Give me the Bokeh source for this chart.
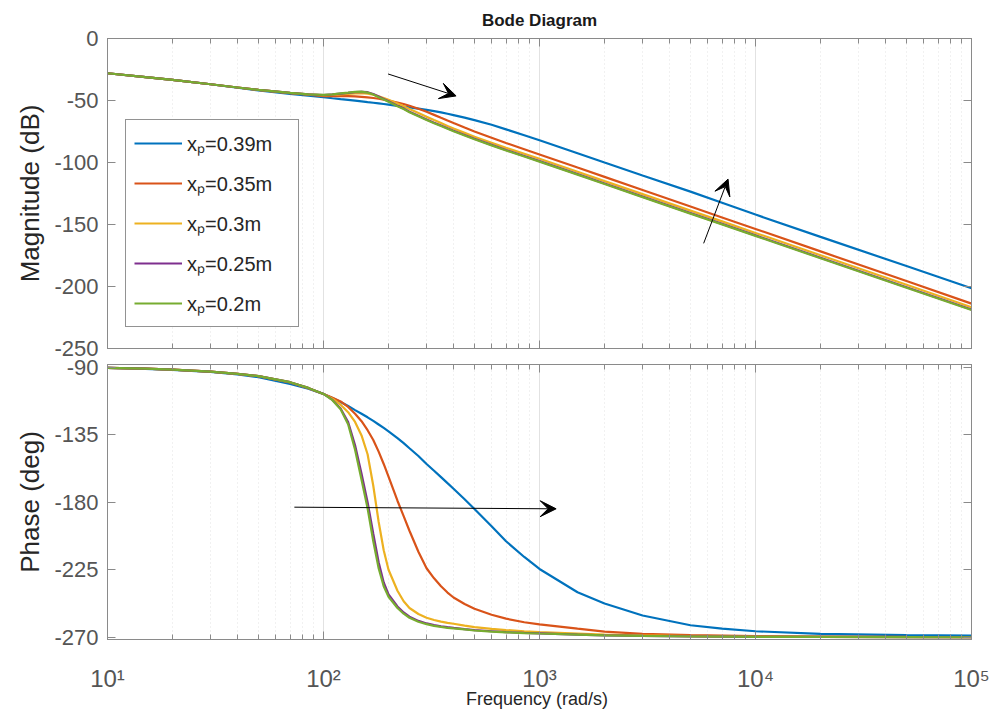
from bokeh.plotting import figure
from bokeh.models import (LogAxis, LinearAxis, FixedTicker, Legend, LegendItem, Arrow,
                          VeeHead, CustomJSTickFormatter, Range1d)
from bokeh.layouts import column
from bokeh.embed import file_html
from bokeh.resources import INLINE

# ---------------- data ----------------
freq = [10, 15, 20, 30, 40, 50, 70, 85,
        100, 110, 120, 130, 140, 150, 160, 170, 180, 190, 200,
        220, 235, 250, 275, 300, 325, 350, 375, 400, 450, 500, 600, 700, 850,
        1000, 1500, 2000, 3000, 5000, 7000,
        10000, 20000, 50000, 100000]

mag_039 = [-28.0, -31.2, -33.4, -36.9, -39.7, -41.8, -44.6, -46.0,
           -47.4, -48.2, -48.9, -49.5, -50.1, -50.7, -51.3, -51.8, -52.3, -52.8, -53.3,
           -54.3, -54.9, -55.6, -56.6, -57.6, -58.6, -59.6, -60.7, -61.8, -63.8, -65.8, -69.6, -73.3, -78.0,
           -82.0, -92.5, -100.0, -110.5, -123.5, -132.5,
           -142.0, -160.0, -183.5, -201.4]
mag_035 = [-28.0, -31.2, -33.4, -36.9, -39.5, -41.5, -44.0, -45.3,
           -46.4, -46.5, -46.5, -46.5, -46.7, -47.1, -47.5, -48.0, -48.6, -49.3, -50.0,
           -51.6, -52.8, -54.2, -56.6, -59.1, -61.6, -64.0, -66.2, -68.2, -71.8, -75.0, -80.0, -84.3, -89.3,
           -93.5, -104.1, -111.6, -122.2, -135.5, -144.3,
           -153.6, -171.7, -195.6, -213.8]
mag_030 = [-28.0, -31.2, -33.4, -36.9, -39.5, -41.5, -43.9, -45.0,
           -45.8, -45.5, -45.1, -44.7, -44.3, -44.1, -44.4, -45.3, -46.6, -48.0, -49.5,
           -52.5, -54.6, -56.8, -60.1, -63.2, -65.8, -68.2, -70.5, -72.6, -76.1, -79.3, -84.1, -88.2, -93.0,
           -97.0, -107.5, -115.0, -125.5, -138.8, -147.5,
           -156.8, -174.8, -198.6, -216.7]
mag_025 = [-28.0, -31.2, -33.4, -36.9, -39.5, -41.5, -43.9, -45.0,
           -45.6, -45.1, -44.4, -43.9, -43.3, -43.0, -43.3, -44.7, -46.7, -48.7, -50.6,
           -54.2, -56.5, -59.0, -62.3, -65.4, -67.9, -70.2, -72.4, -74.4, -77.8, -80.9, -85.8, -89.9, -94.8,
           -98.9, -109.4, -116.9, -127.5, -140.8, -149.5,
           -158.8, -176.8, -200.6, -218.5]
mag_020 = [-28.0, -31.2, -33.4, -36.9, -39.5, -41.5, -43.9, -45.0,
           -45.5, -45.0, -44.3, -43.7, -43.1, -42.9, -43.6, -45.2, -47.3, -49.2, -51.0,
           -54.6, -56.9, -59.4, -62.7, -65.8, -68.3, -70.6, -72.8, -74.8, -78.2, -81.3, -86.2, -90.3, -95.2,
           -99.3, -109.8, -117.3, -127.9, -141.2, -149.9,
           -159.2, -177.2, -201.0, -218.9]

ph_039 = [-90.5, -91.1, -91.8, -93.2, -94.8, -96.6, -101.2, -104.3,
          -107.8, -110.5, -113.2, -115.9, -118.6, -121.0, -123.4, -125.8, -128.2, -130.5, -132.8,
          -137.3, -140.6, -144.0, -149.2, -154.5, -159.0, -163.3, -167.3, -171.0, -178.0, -184.5, -196.0, -206.0, -216.5,
          -224.5, -240.0, -247.5, -255.5, -262.0, -264.3,
          -266.0, -267.8, -268.6, -268.9]
ph_035 = [-90.4, -91.0, -91.6, -93.0, -94.4, -96.0, -100.2, -104.0,
          -107.8, -110.3, -112.8, -116.5, -121.0, -126.0, -132.0, -138.5, -146.3, -154.5, -163.0,
          -179.0, -189.3, -199.0, -213.0, -224.0, -230.7, -236.0, -240.2, -243.5, -247.8, -251.0, -255.0, -257.6, -260.0,
          -261.4, -264.3, -266.3, -267.7, -268.6, -268.9,
          -269.2, -269.5, -269.8, -269.9]
ph_030 = [-90.4, -91.0, -91.6, -93.0, -94.4, -96.0, -100.0, -103.8,
          -107.8, -111.0, -115.0, -120.0, -126.5, -135.5, -148.0, -169.0, -193.0, -212.0, -225.0,
          -239.0, -246.0, -250.5, -254.5, -257.0, -258.5, -259.6, -260.4, -261.0, -262.2, -263.2, -264.4, -265.2, -266.0,
          -266.5, -267.5, -268.2, -268.8, -269.3, -269.45,
          -269.6, -269.8, -269.9, -270.0]
ph_025 = [-90.4, -91.0, -91.6, -93.0, -94.4, -96.0, -100.0, -103.8,
          -107.8, -111.8, -117.5, -126.5, -142.0, -161.0, -180.0, -201.0, -220.0, -233.5, -241.5,
          -249.5, -253.5, -256.3, -259.1, -260.8, -261.9, -262.7, -263.3, -263.8, -264.6, -265.3, -266.0, -266.6, -267.1,
          -267.4, -268.2, -268.7, -269.1, -269.5, -269.6,
          -269.7, -269.8, -269.9, -270.0]
ph_020 = [-90.4, -91.0, -91.6, -93.0, -94.4, -96.0, -100.0, -103.8,
          -107.8, -112.0, -118.0, -128.0, -145.0, -165.0, -184.0, -206.0, -224.0, -236.0, -243.0,
          -250.5, -254.3, -257.0, -259.7, -261.3, -262.4, -263.1, -263.7, -264.1, -264.8, -265.5, -266.2, -266.7, -267.2,
          -267.5, -268.2, -268.7, -269.1, -269.5, -269.6,
          -269.7, -269.8, -269.9, -270.0]

series_labels = ["x\u209a=0.39m", "x\u209a=0.35m", "x\u209a=0.3m", "x\u209a=0.25m", "x\u209a=0.2m"]
series_colors = ["#0072BD", "#D95319", "#EDB120", "#7E2F8E", "#77AC30"]
mags = [mag_039, mag_035, mag_030, mag_025, mag_020]
phases = [ph_039, ph_035, ph_030, ph_025, ph_020]

x_ticks = [10, 100, 1000, 10000, 100000]
x_tick_labels = ["10\u00b9", "10\u00b2", "10\u00b3", "10\u2074", "10\u2075"]
mag_ticks = [0, -50, -100, -150, -200, -250]
mag_tick_labels = ["0", "-50", "-100", "-150", "-200", "-250"]
phase_ticks = [-90, -135, -180, -225, -270]
phase_tick_labels = ["-90", "-135", "-180", "-225", "-270"]

# annotation arrows: (x_start, y_start, x_end, y_end) in data units
arrow_mag_a = [199, -28.6, 411, -46.3]
arrow_mag_b = [5754, -165.2, 7464, -113.4]
arrow_phase = [73.3, -183.3, 1194, -184.4]

# ---------------- styling ----------------
FONT = "Liberation Sans"
AX = "#8a8a8a"
TICK_TXT = "#555555"
LBL_TXT = "#262626"
GRID = "#e2e2e2"
minor_x = [m * 10 ** k for k in range(1, 5) for m in range(2, 10)]


def empty_labels(ax):
    ax.formatter = CustomJSTickFormatter(code="return ''")
    ax.major_label_text_font_size = "0px"
    ax.major_label_standoff = 0


def style_axis(ax):
    ax.axis_line_color = AX
    ax.major_tick_line_color = AX
    ax.minor_tick_line_color = AX
    ax.major_tick_in = 8
    ax.major_tick_out = 0
    ax.minor_tick_in = 5
    ax.minor_tick_out = 0
    ax.major_label_text_font = FONT
    ax.major_label_text_color = TICK_TXT
    ax.axis_label_text_font = FONT
    ax.axis_label_text_color = LBL_TXT
    ax.axis_label_text_font_style = "normal"


x_range = Range1d(10, 100000)


def make_fig(height, y_range, top, bottom, yticks, ylabels, ylabel, title=None):
    kw = dict(width=992, height=height, x_axis_type="log", y_axis_type=None,
              x_range=x_range, y_range=y_range, output_backend="svg",
              toolbar_location=None, min_border_left=107, min_border_right=21,
              min_border_top=top, min_border_bottom=bottom,
              background_fill_color="white", border_fill_color="white")
    if title:
        kw["title"] = title
    p = figure(**kw)
    p.outline_line_color = AX

    bottom_ax = p.below[0]
    bottom_ax.ticker = FixedTicker(ticks=x_ticks, minor_ticks=minor_x)
    style_axis(bottom_ax)

    left_ax = LinearAxis(ticker=FixedTicker(ticks=yticks, minor_ticks=[]))
    style_axis(left_ax)
    left_ax.major_label_overrides = dict(zip(yticks, ylabels))
    left_ax.axis_label = ylabel
    left_ax.axis_label_text_font_size = "26px"
    left_ax.major_label_text_font_size = "22px"
    left_ax.major_label_standoff = 9
    left_ax.axis_label_standoff = 6
    p.add_layout(left_ax, "left")

    top_ax = LogAxis(ticker=FixedTicker(ticks=x_ticks, minor_ticks=minor_x))
    style_axis(top_ax)
    empty_labels(top_ax)
    p.add_layout(top_ax, "above")

    right_ax = LinearAxis(ticker=FixedTicker(ticks=yticks, minor_ticks=[]))
    style_axis(right_ax)
    empty_labels(right_ax)
    p.add_layout(right_ax, "right")

    p.xgrid.grid_line_color = GRID
    p.xgrid.minor_grid_line_color = GRID
    p.xgrid.minor_grid_line_dash = "1 3"
    p.ygrid.ticker = FixedTicker(ticks=yticks, minor_ticks=[])
    p.ygrid.grid_line_color = GRID
    return p, bottom_ax


p1, p1_bottom = make_fig(366, Range1d(-250, 0), 38, 18, mag_ticks, mag_tick_labels,
                         "Magnitude (dB)", title="Bode Diagram")
empty_labels(p1_bottom)
p1.title.text_font = FONT
p1.title.text_font_size = "17px"
p1.title.text_font_style = "bold"
p1.title.align = "center"
p1.title.text_color = "#1a1a1a"
p1.title.standoff = 17

p2, p2_bottom = make_fig(355, Range1d(-271.5, -88.2), 8, 72, phase_ticks, phase_tick_labels,
                         "Phase (deg)")
p2.border_fill_alpha = 0.0
p2.margin = (-10, 0, 0, 0)
p2_bottom.major_label_overrides = dict(zip(x_ticks, x_tick_labels))
p2_bottom.major_label_text_font_size = "24px"
p2_bottom.major_label_standoff = 25
p2_bottom.axis_label = "Frequency  (rad/s)"
p2_bottom.axis_label_text_font_size = "18px"
p2_bottom.axis_label_standoff = -6

items = []
for lbl, col, m, ph in zip(series_labels, series_colors, mags, phases):
    r = p1.line(freq, m, line_color=col, line_width=2.2)
    p2.line(freq, ph, line_color=col, line_width=2.2)
    items.append(LegendItem(label=lbl, renderers=[r]))

legend = Legend(items=items, location=(18, 21), margin=0, padding=8, spacing=10,
                label_height=30, glyph_height=30, glyph_width=48, label_width=103,
                label_standoff=5, label_text_font=FONT, label_text_font_size="20px",
                label_text_color=LBL_TXT, border_line_color="#262626", border_line_width=1,
                background_fill_color="white", background_fill_alpha=1.0)
p1.add_layout(legend)

for p, a in [(p1, arrow_mag_a), (p1, arrow_mag_b), (p2, arrow_phase)]:
    p.add_layout(Arrow(end=VeeHead(size=16, fill_color="black", line_color="black"),
                       x_start=a[0], y_start=a[1], x_end=a[2], y_end=a[3],
                       line_color="black", line_width=1))

layout = column(p1, p2, spacing=0)
open("out.html", "w").write(file_html(layout, INLINE))
